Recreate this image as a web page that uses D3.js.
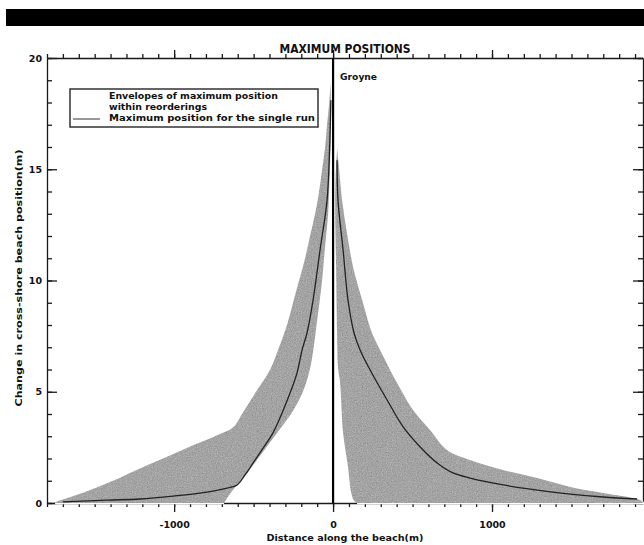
<!DOCTYPE html>
<html>
<head>
<meta charset="utf-8">
<script src="https://cdn.jsdelivr.net/npm/d3@7"></script>
<style>
  body { margin: 0; background: #fff; }
  text { font-family: "DejaVu Sans", "Liberation Sans", sans-serif; font-weight: bold; fill: #111; }
</style>
</head>
<body>
<div id="chart"></div>
<script>
// envelope edges [distance (m), change (m)]
const leftOuter = [[-1768,0],[-1561,0.5],[-1385,1],[-1233,1.5],[-1070,2],[-913,2.5],[-743,3],[-629,3.4],
  [-573,4],[-485,5],[-396,6],[-340,7],[-290,8],[-252,9],[-214,10],[-176,11],[-145,12],[-113,13],
  [-88,14],[-69,15],[-50,16],[-38,17],[-24,18],[-16,18.9]];
const leftInner = [[-686,0],[-640,0.5],[-578,1],[-525,1.5],[-472,2],[-420,2.5],[-368,3],[-316,3.5],
  [-264,4],[-190,5],[-146,6],[-122,7],[-104,8],[-86,9],[-69,10],[-57,11],[-44,12],[-31,13],[-25,14],
  [-20,15],[-16,16],[-14,17],[-13,18],[-16,18.9]];
const rightOuter = [[1950,0],[1932,0.13],[1699,0.45],[1492,0.72],[1284,1.12],[1070,1.48],[862,1.93],
  [717,2.38],[610,3.28],[503,4.18],[403,5.39],[296,6.88],[245,7.64],[183,9.12],[126,10.6],
  [88,12.1],[57,13.6],[38,15],[26,15.95]];
const rightInner = [[151,0],[132,0.1],[113,0.5],[94,1.62],[63,3.15],[44,5.4],[31,6.1],[25,7.64],
  [19,10.6],[13,13.6],[18,15],[26,15.95]];

// maximum position for the single run
const leftRun = [[-1700,0.05],[-1422,0.13],[-1215,0.18],[-1007,0.31],[-793,0.49],[-667,0.67],
  [-604,0.81],[-554,1.26],[-503,1.8],[-440,2.47],[-378,3.15],[-321,4.04],[-271,4.94],[-227,5.84],
  [-195,6.88],[-164,7.64],[-126,9.12],[-82,11.37],[-38,13.6],[-22,15.9],[-14,18.1]];
const rightRun = [[25,15.4],[31,13.6],[63,11.37],[94,9.12],[132,7.64],[170,6.88],[233,5.98],
  [340,4.63],[441,3.42],[548,2.52],[655,1.8],[755,1.35],[862,1.12],[1070,0.81],[1284,0.58],
  [1492,0.4],[1699,0.27],[1913,0.18]];

const xMajor = [-1000, 0, 1000];
const xMinor = d3.range(-1800, 1951, 100);
const yMajor = [0, 5, 10, 15, 20];
const yMinor = d3.range(0, 21, 1);

const legendLines = ["Envelopes of maximum position", "within reorderings", "Maximum position for the single run"];

const width = 644, height = 545;
const x = d3.scaleLinear().domain([-1800, 1950]).range([47, 643]);
const y = d3.scaleLinear().domain([0, 20]).range([503, 58]);

const svg = d3.select('#chart').append('svg')
  .attr('width', width)
  .attr('height', height);

// speckled grey like the scanned shading
const grain = svg.append('defs').append('filter').attr('id', 'grain')
  .attr('color-interpolation-filters', 'sRGB');
grain.append('feTurbulence').attr('type', 'fractalNoise').attr('baseFrequency', 0.8)
  .attr('numOctaves', 2).attr('seed', 7).attr('result', 'n');
grain.append('feColorMatrix').attr('in', 'n').attr('type', 'matrix')
  .attr('values', '0.33 0.33 0.33 0 0  0.33 0.33 0.33 0 0  0.33 0.33 0.33 0 0  0 0 0 0 1')
  .attr('result', 'g');
const ct = grain.append('feComponentTransfer').attr('in', 'g').attr('result', 't');
['feFuncR', 'feFuncG', 'feFuncB'].forEach(f =>
  ct.append(f).attr('type', 'linear').attr('slope', 0.45).attr('intercept', 0.42));
grain.append('feComposite').attr('in', 't').attr('in2', 'SourceGraphic').attr('operator', 'in');

svg.append('rect').attr('width', width).attr('height', height).attr('fill', '#fff');

// scan header band
svg.append('rect').attr('x', 6).attr('y', 9).attr('width', 638).attr('height', 17).attr('fill', '#000');

function styleAxis(g) {
  g.selectAll('path, line').attr('stroke', '#1a1a1a').attr('stroke-width', 1.3);
  g.selectAll('text').attr('font-size', 9.5).attr('fill', '#111');
}

// bottom
svg.append('g').attr('transform', `translate(0,${y(0)})`)
  .call(d3.axisBottom(x).tickValues(xMinor).tickSize(4).tickSizeOuter(0).tickFormat(''))
  .call(styleAxis);
svg.append('g').attr('transform', `translate(0,${y(0)})`)
  .call(d3.axisBottom(x).tickValues(xMajor).tickSize(9).tickPadding(9).tickFormat(d => String(d)))
  .call(g => g.select('.domain').remove())
  .call(styleAxis);

// top
svg.append('g').attr('transform', `translate(0,${y(20)})`)
  .call(d3.axisTop(x).tickValues(xMinor).tickSize(4).tickSizeOuter(0).tickFormat(''))
  .call(styleAxis);
svg.append('g').attr('transform', `translate(0,${y(20)})`)
  .call(d3.axisTop(x).tickValues(xMajor).tickSize(8).tickFormat(''))
  .call(g => g.select('.domain').remove())
  .call(styleAxis);

// left
svg.append('g').attr('transform', `translate(${x(-1800)},0)`)
  .call(d3.axisLeft(y).tickValues(yMinor).tickSize(-5).tickSizeOuter(0).tickFormat(''))
  .call(styleAxis);
svg.append('g').attr('transform', `translate(${x(-1800)},0)`)
  .call(d3.axisLeft(y).tickValues(yMajor).tickSize(-10).tickPadding(5).tickFormat(d => String(d)))
  .call(g => g.select('.domain').remove())
  .call(styleAxis);

// right
svg.append('g').attr('transform', `translate(${x(1950)},0)`)
  .call(d3.axisRight(y).tickValues(yMinor).tickSize(-5).tickSizeOuter(0).tickFormat(''))
  .call(styleAxis);
svg.append('g').attr('transform', `translate(${x(1950)},0)`)
  .call(d3.axisRight(y).tickValues(yMajor).tickSize(-10).tickFormat(''))
  .call(g => g.select('.domain').remove())
  .call(styleAxis);

// envelopes (the scan lost the axis line under them)
const edge = d3.line().x(d => x(d[0])).y(d => y(d[1])).curve(d3.curveCatmullRom.alpha(0.5));
[[leftOuter, leftInner], [rightOuter, rightInner]].forEach(([outer, inner]) => {
  svg.append('line')
    .attr('x1', x(outer[0][0]) + 3).attr('x2', x(inner[0][0]))
    .attr('y1', y(0)).attr('y2', y(0))
    .attr('stroke', '#fff').attr('stroke-width', 2.5);
  svg.append('path')
    .attr('d', edge(outer.concat(inner.slice().reverse())) + 'Z')
    .attr('fill', '#a8a8a8')
    .attr('filter', 'url(#grain)');
});

const runLine = d3.line().x(d => x(d[0])).y(d => y(d[1])).curve(d3.curveCatmullRom);
[leftRun, rightRun].forEach(run => {
  svg.append('path').attr('d', runLine(run))
    .attr('fill', 'none').attr('stroke', '#222').attr('stroke-width', 1.3);
});

// groyne
svg.append('line')
  .attr('x1', x(0)).attr('x2', x(0))
  .attr('y1', y(0)).attr('y2', y(20))
  .attr('stroke', '#000').attr('stroke-width', 2.2);
svg.append('text').attr('x', x(0) + 7).attr('y', 80).attr('font-size', 9.5)
  .attr('textLength', 37).attr('lengthAdjust', 'spacingAndGlyphs').text('Groyne');

// legend
svg.append('rect').attr('x', 70).attr('y', 89).attr('width', 248).attr('height', 38)
  .attr('fill', '#fff').attr('stroke', '#333').attr('stroke-width', 1.5);
svg.append('line').attr('x1', 73).attr('x2', 100).attr('y1', 119).attr('y2', 119)
  .attr('stroke', '#333').attr('stroke-width', 1);
const legendWidths = [169, 98, 206];
svg.selectAll('.leg').data(legendLines).enter().append('text')
  .attr('class', 'leg')
  .attr('x', 109)
  .attr('y', (d, i) => [99, 109.5, 121][i])
  .attr('font-size', 8.5)
  .attr('textLength', (d, i) => legendWidths[i])
  .attr('lengthAdjust', 'spacingAndGlyphs')
  .text(d => d);

// titles
svg.append('text').attr('x', 345).attr('y', 53).attr('text-anchor', 'middle')
  .attr('font-family', '"Liberation Sans", Arial, sans-serif')
  .attr('font-size', 12.5).attr('textLength', 131).attr('lengthAdjust', 'spacingAndGlyphs')
  .text('MAXIMUM POSITIONS');
svg.append('text').attr('x', 345).attr('y', 541).attr('text-anchor', 'middle')
  .attr('font-size', 9.5).attr('textLength', 157).attr('lengthAdjust', 'spacingAndGlyphs')
  .text('Distance along the beach(m)');
svg.append('text').attr('transform', 'translate(22,278) rotate(-90)').attr('text-anchor', 'middle')
  .attr('font-size', 9.5).attr('textLength', 257).attr('lengthAdjust', 'spacingAndGlyphs')
  .text('Change in cross-shore beach position(m)');
</script>
</body>
</html>
